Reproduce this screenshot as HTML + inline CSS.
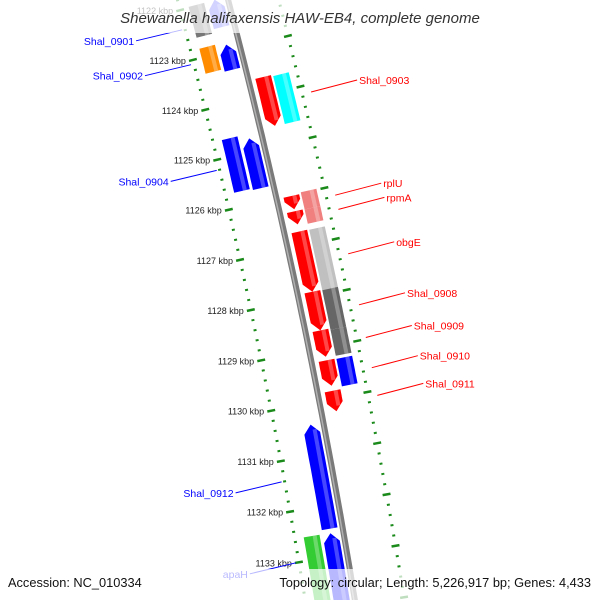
<!DOCTYPE html>
<html><head><meta charset="utf-8"><style>
html,body{margin:0;padding:0;background:#fff;overflow:hidden;width:600px;height:600px;}
svg{display:block;font-family:"Liberation Sans",sans-serif;overflow:hidden;}
</style></head><body>
<svg id="map" width="600" height="600" viewBox="0 0 600 600" xmlns="http://www.w3.org/2000/svg">
<rect width="600" height="600" fill="#fff"/>
<g id="ticks"></g>
<g id="backbone"></g>
<g id="feats"></g>
<g id="tlabels"></g>
<g id="labels"></g>
<rect x="0" y="0" width="600" height="33" fill="#fff" opacity="0.72"/>
<text x="300" y="23" text-anchor="middle" font-size="15" font-style="italic" fill="#333">Shewanella halifaxensis HAW-EB4, complete genome</text>
<rect x="0" y="569" width="600" height="31" fill="#fff" opacity="0.72"/>
<text x="8" y="587" font-size="12.8" fill="#111">Accession: NC_010334</text>
<text x="591" y="587" text-anchor="end" font-size="12.8" fill="#111">Topology: circular; Length: 5,226,917 bp; Genes: 4,433</text>
</svg>
<script>
// feature data (kbp)
const featStart = [1121.98,1122.82,1124.65,1132.54,1121.97,1122.87,1124.74,1130.41,1132.55,1123.65,1126.01,1126.31,1126.71,1127.90,1128.66,1129.25,1129.85,1123.68,1125.98,1126.32,1126.72,1127.91,1128.69,1129.26];
const featEnd   = [1122.60,1123.32,1125.70,1134.3,1122.52,1123.37,1125.73,1132.46,1134.4,1124.62,1126.27,1126.57,1127.90,1128.66,1129.18,1129.75,1130.25,1124.63,1126.32,1126.60,1127.95,1128.69,1129.20,1129.80];
const featRing  = [-2,-2,-2,-2,-1,-1,-1,-1,-1,1,1,1,1,1,1,1,1,2,2,2,2,2,2,2];
const featStrand= [0,0,0,0,-1,-1,-1,-1,-1,1,1,1,1,1,1,1,1,0,0,0,0,0,0,0];
const featColor = ["#777","#ff8c00","#0000ff","#33cc33","#6060ff","#0000ff","#0000ff","#0000ff","#0000ff","#ff0000","#ff0000","#ff0000","#ff0000","#ff0000","#ff0000","#ff0000","#ff0000","#00ffff","#f08080","#f08080","#c0c0c0","#666666","#666666","#0000ff"];
const tickKb = [1122,1123,1124,1125,1126,1127,1128,1129,1130,1131,1132,1133];
const tickText = ["1122 kbp","1123 kbp","1124 kbp","1125 kbp","1126 kbp","1127 kbp","1128 kbp","1129 kbp","1130 kbp","1131 kbp","1132 kbp","1133 kbp"];
const labelText = ["Shal_0901","Shal_0902","Shal_0904","Shal_0912","apaH","Shal_0903","rplU","rpmA","obgE","Shal_0908","Shal_0909","Shal_0910","Shal_0911"];
const labelKb   = [1122.38,1123.08,1125.2,1131.4,1133.0,1124.15,1126.18,1126.46,1127.33,1128.33,1128.97,1129.56,1130.1];
const labelSide = [-1,-1,-1,-1,-1,1,1,1,1,1,1,1,1];

const NS="http://www.w3.org/2000/svg";
const CX=-6161, CY=1663, R0=6602;
function pt(kb,off){const a=(-14.16+(kb-1123)*0.449)*Math.PI/180;const r=R0+off;return [CX+r*Math.cos(a), CY+r*Math.sin(a)];}
function mk(tag,attrs,parent){const e=document.createElementNS(NS,tag);for(const k in attrs)e.setAttribute(k,attrs[k]);parent.appendChild(e);return e;}
const ringOff={"-2":-32,"-1":-13,"1":15,"2":33};
const W=16;

// backbone
(function(){const g=document.getElementById('backbone');let d="";for(let k=1120;k<=1135.5;k+=0.25){const p=pt(k,0);d+=(d?"L":"M")+p[0].toFixed(1)+","+p[1].toFixed(1);}
const a=mk('path',{d:d,stroke:"#7a7a7a","stroke-width":6,fill:"none"},g);


let d2="";for(let k=1120;k<=1135.5;k+=0.25){const p=pt(k,-1);d2+=(d2?"L":"M")+p[0].toFixed(1)+","+p[1].toFixed(1);}
const b=mk('path',{d:d2,stroke:"#b0b0b0","stroke-width":1.5,fill:"none"},g);

})();

// ticks
(function(){const g=document.getElementById('ticks');const tl=document.getElementById('tlabels');
[-49,49].forEach(function(off){
for(let i=0;i<=80;i++){const kb=1121.2+i*0.2;const major=Math.abs(kb-Math.round(kb))<0.01;const len=major?8:3;const p1=pt(kb,off-len/2),p2=pt(kb,off+len/2);
const l=mk('line',{x1:p1[0],y1:p1[1],x2:p2[0],y2:p2[1],stroke:"#1a8a1a","stroke-width":major?2.5:2},g);

}});
tickKb.forEach(function(kb,i){const p=pt(kb,-49);const t=mk('text',{x:(p[0]-7).toFixed(1),y:(p[1]+4).toFixed(1),"text-anchor":"end","font-size":9,fill:"#222"},tl);t.textContent=tickText[i];

});})();

// features
(function(){const g=document.getElementById('feats');
featStart.forEach(function(s,i){const e=featEnd[i];const o=ringOff[featRing[i]];const o1=o-W/2,o2=o+W/2;const h=0.17;const pts=[];
const st=featStrand[i];
const a0=st<0?s+h:s, a1=st>0?e-h:e;
for(let k=a0;k<=a1+1e-6;k+=(a1-a0)/8)pts.push(pt(k,o1));
if(st>0)pts.push(pt(e,o));
for(let k=a1;k>=a0-1e-6;k-=(a1-a0)/8)pts.push(pt(k,o2));
if(st<0)pts.push(pt(s,o));
const poly=mk('polygon',{points:pts.map(p=>p[0].toFixed(1)+","+p[1].toFixed(1)).join(" "),fill:featColor[i]},g);


const sp=[];const b0=st<0?s+h*0.6:s,b1=st>0?e-h*0.6:e;
[[b0,o+1],[b1,o+1],[b1,o+5],[b0,o+5]].forEach(q=>sp.push(pt(q[0],q[1])));
const sh=mk('polygon',{points:sp.map(p=>p[0].toFixed(1)+","+p[1].toFixed(1)).join(" "),fill:"#fff",opacity:0.28},g);

});})();

// labels
(function(){const g=document.getElementById('labels');
labelText.forEach(function(txt,i){const side=labelSide[i];const p=pt(labelKb[i],side<0?-52:58);const col=side<0?"#0000ff":"#ff0000";
const x2=p[0]+side*46,y2=p[1]+(side<0?11:-12);
const l=mk('line',{x1:p[0].toFixed(1),y1:p[1].toFixed(1),x2:x2.toFixed(1),y2:y2.toFixed(1),stroke:col,"stroke-width":1},g);


const t=mk('text',{x:(x2+side*2).toFixed(1),y:(y2+4).toFixed(1),"text-anchor":side<0?"end":"start","font-size":10.5,fill:col},g);t.textContent=txt;

});})();
</script>
</body></html>
